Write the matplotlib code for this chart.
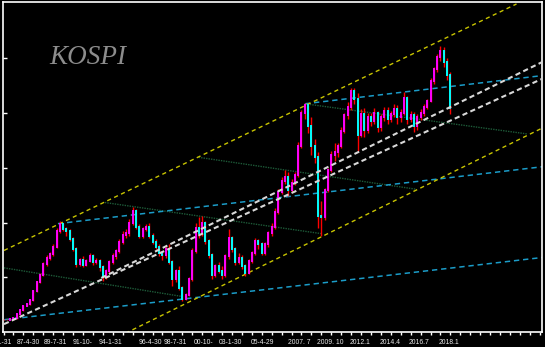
import matplotlib
matplotlib.use("Agg")
import matplotlib.pyplot as plt
import matplotlib.transforms as mtransforms
import numpy as np

# ---------------- data (KOSPI, quarterly bars, month index from Jan 1985) ----------------
start_month = 0
step_months = 3
closes = [112, 112, 115, 125, 160, 200, 240, 255, 290, 372,
          455, 520, 620, 680, 710, 780, 920, 984, 940, 920,
          850, 760, 620, 660, 610, 650, 690, 640, 650, 590,
          500, 560, 640, 690, 740, 820, 890, 900, 1000, 1106,
          960, 880, 940, 960, 880, 820, 780, 720, 700, 760,
          640, 480, 560, 400, 300, 340, 480, 740, 950, 900,
          1000, 830, 700, 520, 600, 560, 520, 690, 860, 760,
          640, 680, 600, 540, 650, 720, 830, 800, 720, 800,
          900, 960, 1100, 1280, 1380, 1420, 1300, 1360, 1430, 1700,
          2000, 2070, 1880, 1700, 1600, 1060, 1050, 1300, 1480, 1620,
          1640, 1700, 1840, 1980, 2060, 2200, 2130, 1800, 1990, 1850,
          1960, 1930, 2000, 1870, 1960, 2020, 1950, 1990, 2040, 1960,
          2000, 2140, 1950, 1980, 1880, 1960, 2000, 2060, 2110, 2290,
          2400, 2510, 2570, 2470, 2350, 2050]
highs = [118, 116, 120, 132, 168, 210, 250, 268, 300, 385,
         470, 535, 640, 700, 730, 800, 950, 1010, 1000, 960,
         940, 870, 780, 680, 690, 670, 720, 710, 680, 670,
         610, 580, 660, 720, 760, 850, 920, 940, 1030, 1140,
         1120, 990, 960, 990, 1000, 900, 850, 800, 740, 790,
         800, 660, 580, 600, 420, 360, 500, 770, 1000, 1050,
         1060, 1010, 850, 720, 620, 640, 600, 710, 940, 880,
         780, 720, 700, 620, 670, 740, 860, 850, 820, 820,
         920, 1000, 1130, 1310, 1420, 1480, 1460, 1400, 1460, 1740,
         2030, 2090, 2070, 1960, 1760, 1640, 1200, 1320, 1500, 1650,
         1730, 1730, 1870, 2000, 2100, 2230, 2230, 2180, 2040, 2050,
         2000, 2000, 2050, 2020, 1990, 2060, 2060, 2020, 2080, 2070,
         2040, 2190, 2160, 2020, 2010, 1990, 2040, 2080, 2130, 2320,
         2420, 2540, 2610, 2600, 2500, 2380]
lows = [108, 108, 110, 113, 122, 155, 195, 235, 250, 285,
        365, 445, 510, 600, 660, 690, 770, 900, 920, 880,
        830, 740, 590, 600, 590, 600, 640, 610, 620, 560,
        470, 480, 540, 620, 670, 720, 800, 860, 880, 980,
        940, 860, 860, 920, 860, 800, 760, 690, 660, 680,
        620, 420, 460, 380, 280, 290, 330, 470, 720, 860,
        880, 800, 680, 480, 500, 540, 480, 500, 670, 730,
        610, 620, 580, 510, 530, 630, 700, 760, 700, 700,
        780, 880, 940, 1080, 1260, 1350, 1240, 1280, 1340, 1420,
        1680, 1950, 1820, 1620, 1540, 950, 880, 1020, 1280, 1460,
        1560, 1600, 1680, 1820, 1950, 2030, 2080, 1650, 1780, 1780,
        1820, 1880, 1900, 1830, 1840, 1930, 1900, 1920, 1960, 1900,
        1920, 1980, 1900, 1920, 1830, 1850, 1940, 1970, 2040, 2100,
        2270, 2380, 2480, 2420, 2300, 1990]

# trend lines: (month, price) endpoints
yellow_lines = [((0.4, 745), (464.9, 2997)),
                ((110.6, -11), (491, 1877))]
cyan_lines = [((0.4, 112), (491, 684)),
              ((49.3, 990), (491, 1513)),
              ((273.1, 2085), (491, 2346))]
green_lines = [((0.4, 586), (161, 326)),
               ((91.8, 1183), (288.5, 898)),
               ((176.8, 1596), (373.6, 1305)),
               ((273.1, 2085), (474.3, 1810))]
white_lines = [((0.4, 72), (488.5, 2315)),
               ((88.6, 494), (488.5, 2468))]

label_pos = [-13.6, 11.8, 36.2, 62.5, 86, 122, 145, 172, 195, 224, 258, 284, 314, 341, 367, 394]
label_text = ["85-1-31", "87-4-30", "89-7-31", "91-10-", "94-1-31", "96-4-30", "98-7-31",
              "00-10-", "03-1-30", "05-4-29", "2007. 7", "2009. 10", "2012.1", "2014.4",
              "2016.7", "2018.1"]
title_text = "KOSPI"

# ---------------- figure ----------------
W, H = 545, 347
fig = plt.figure(figsize=(W / 100, H / 100), dpi=100, facecolor="black")
ax = fig.add_axes([3 / W, 15 / H, 539 / W, 330 / H], facecolor="black")

months = start_month + step_months * np.arange(len(closes))
opens = [closes[0]] + closes[:-1]

def draw(lines, **kw):
    for (x0, y0), (x1, y1) in lines:
        ax.plot([x0, x1], [y0, y1], **kw)

draw(green_lines, color="#1d5a38", lw=1.0, linestyle=(0, (1, 0.8)), zorder=1)
draw(cyan_lines, color="#1b9cc8", lw=1.1, linestyle=(0, (3.5, 2.5)), zorder=2)
draw(yellow_lines, color="#c8c400", lw=1.0, linestyle=(0, (3, 2.5)), zorder=2)

# bars
for m, o, c, h, l in zip(months, opens, closes, highs, lows):
    ax.plot([m, m], [l, h], color="#ff0000", lw=1.0, solid_capstyle="butt", zorder=3)
    col = "#ff00ff" if c >= o else "#00ffff"
    ax.plot([m, m], [min(o, c), max(o, c)], color=col, lw=1.4,
            solid_capstyle="projecting", zorder=4)

draw(white_lines, color="#d8d8d8", lw=1.5, linestyle=(0, (2.5, 1.6)), zorder=5)

ax.set_xlim(-0.5, 488)
ax.set_ylim(0, 3015)

for s in ax.spines.values():
    s.set_color("white")
    s.set_linewidth(1.2)

ax.set_yticks([500, 1000, 1500, 2000, 2500])
ax.set_yticklabels([])
ax.tick_params(axis="y", direction="in", length=3, color="white", width=1)

ax.set_xticks([])
ax.set_xticks(np.arange(0, 488, 9), minor=True)
ax.tick_params(axis="x", which="minor", direction="out", length=2, color="white", width=1)

trans = mtransforms.blended_transform_factory(ax.transData, fig.transFigure)
for p, t in zip(label_pos, label_text):
    ax.text(p, 1 - 343.5 / H, t, transform=trans, ha="left", va="baseline",
            fontsize=4.9, color="#e8e8e8", family="Liberation Sans", clip_on=False)

fig.text(49 / W, 1 - 64 / H, title_text, fontsize=19.5, style="italic",
         family="Liberation Serif", color="#8c8c8c", va="baseline", ha="left")

fig.savefig("out.png", dpi=100, facecolor="black")
